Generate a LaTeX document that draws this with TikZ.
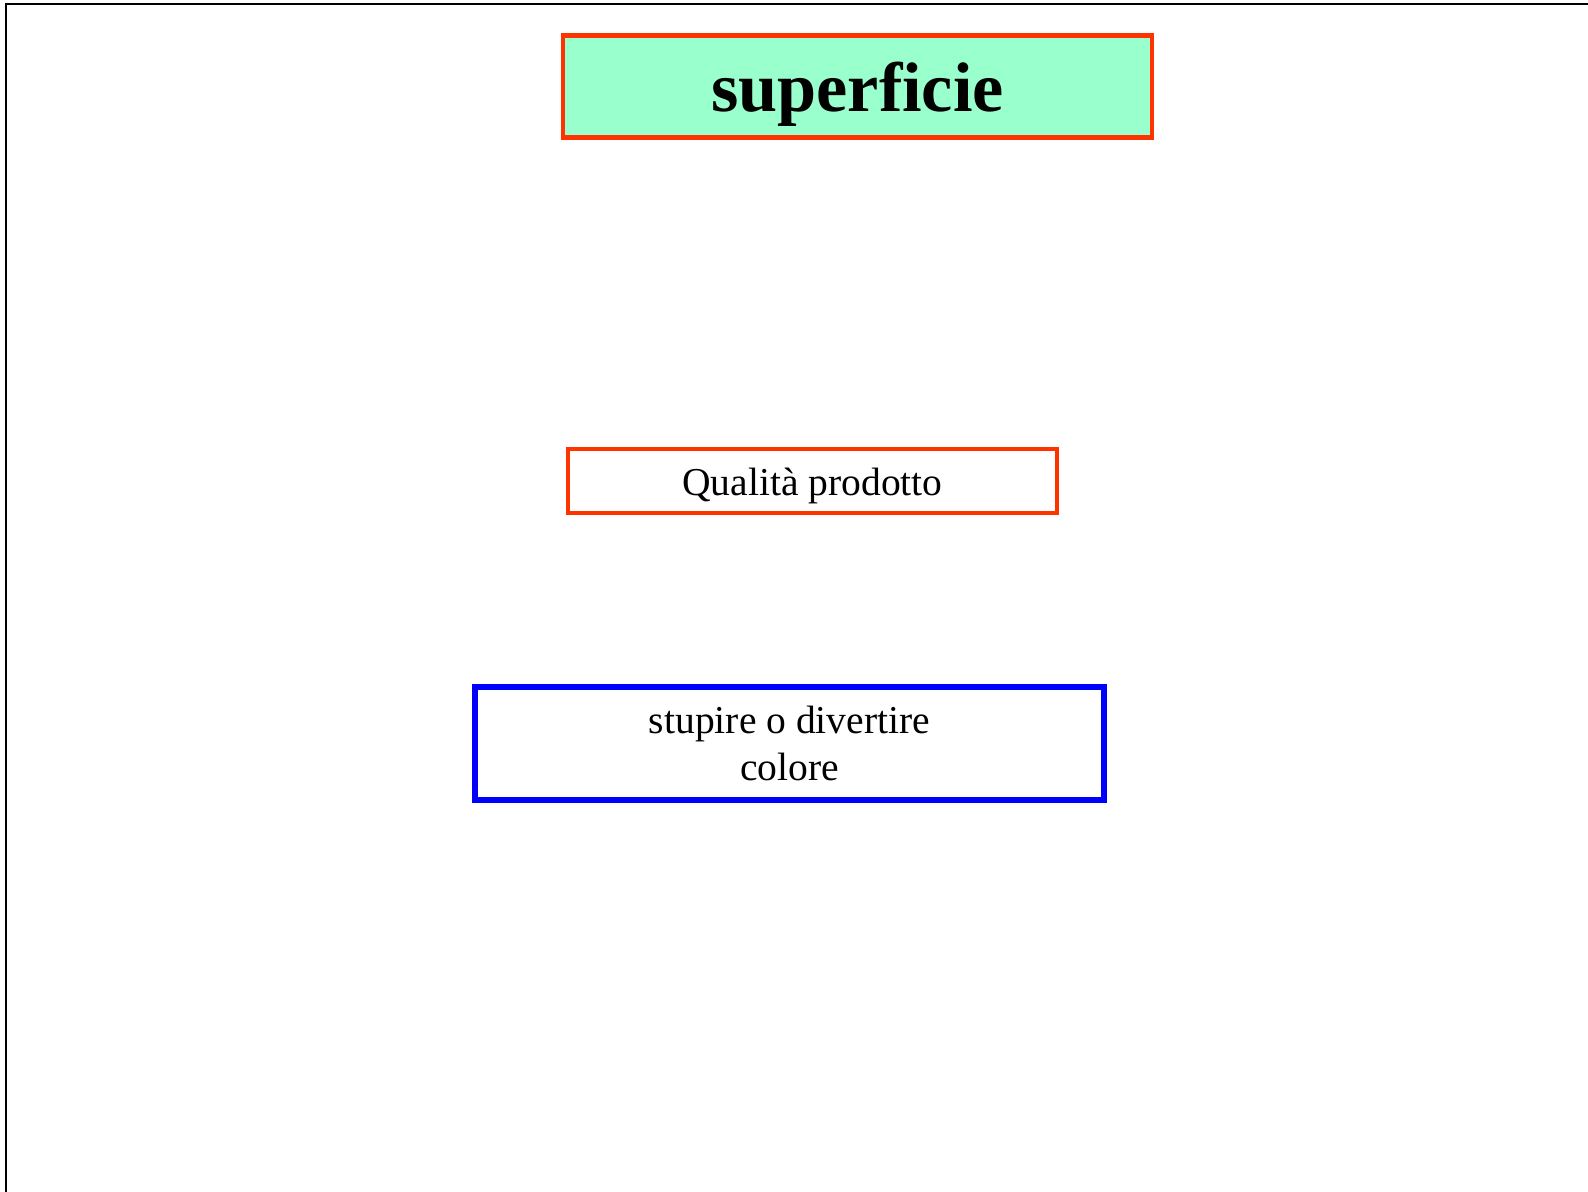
\documentclass[tikz,border=0pt]{standalone}
\usepackage{fontspec}
\setmainfont{Liberation Serif}
\usetikzlibrary{positioning}
\definecolor{boxred}{RGB}{255,51,0}
\definecolor{boxgreen}{RGB}{153,255,204}
\definecolor{boxblue}{RGB}{0,0,255}
\tikzset{
  titlebox/.style={draw=boxred, fill=boxgreen, line width=2.6pt, minimum width=11.78cm, minimum height=2.05cm, text height=36pt, text depth=8pt, font=\fontsize{40}{44}\selectfont\bfseries},
  redbox/.style={draw=boxred, line width=2.3pt, minimum width=9.78cm, minimum height=1.29cm, text height=20pt, text depth=4pt, font=\fontsize{22.5}{26}\selectfont},
  bluebox/.style={draw=boxblue, line width=3.4pt, minimum width=12.58cm, minimum height=2.26cm, align=center, font=\fontsize{22.5}{26.5}\selectfont}
}

\begin{document}
\begin{tikzpicture}[x=0.02cm, y=-0.02cm]
  \useasboundingbox (0,0) rectangle (1588,1192);
  \draw[line width=1.5pt] (1588,4) -- (6,4) -- (6,1192);
  \node[titlebox] (title) at (857.5,86.5) {superficie};
  \node[redbox] (qual) at (812.5,481) {Qualità prodotto};
  \node[bluebox] (stup) at (789.5,743.5) {stupire o divertire\\colore};
\end{tikzpicture}
\end{document}
